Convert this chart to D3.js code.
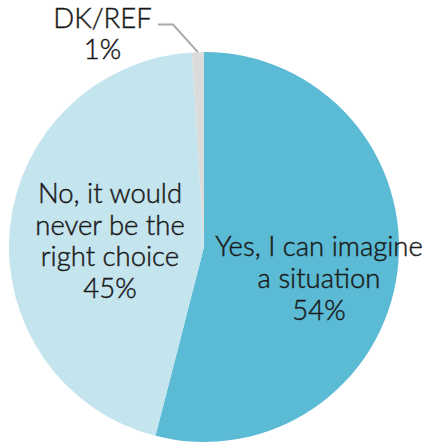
<!DOCTYPE html>
<html>
<head>
<meta charset="utf-8">
<script src="https://cdn.jsdelivr.net/npm/d3@7"></script>
<style>
  html, body { margin: 0; padding: 0; background: #ffffff; }
  svg { display: block; }
  text { font-family: Lato, "Noto Sans", sans-serif; font-weight: 300; fill: #1a1a1a; stroke: #1a1a1a; stroke-width: 0.45px; }
</style>
</head>
<body>
<svg id="chart" width="428" height="444"></svg>
<script>
// Survey responses, clockwise from 12 o'clock
const categories = ["Yes, I can imagine a situation", "No, it would never be the right choice", "DK/REF"];
const values = [54, 45, 1];
const labelLines = [
  ["Yes, I can imagine", "a situation", "54%"],
  ["No, it would", "never be the", "right choice", "45%"],
  ["DK/REF", "1%"]
];
const colors = ["#5bbad4", "#c4e4ee", "#dcdcdc"];

const W = 428, H = 444;
const cx = 204, cy = 247, R = 195;
const fontSize = 27.5, lineH = 31.6;

const svg = d3.select("#chart");
const g = svg.append("g").attr("transform", `translate(${cx},${cy})`);

const pie = d3.pie().sort(null).value(d => d.value);
const arc = d3.arc().innerRadius(0).outerRadius(R);

const data = categories.map((c, i) => ({ name: c, value: values[i], lines: labelLines[i], color: colors[i] }));
const arcs = pie(data);

g.selectAll("path.slice")
  .data(arcs)
  .join("path")
  .attr("class", "slice")
  .attr("d", arc)
  .attr("fill", d => d.data.color);

// Label anchors: x = text centre, y = middle baseline, relative to pie centre
const labelPos = [
  { x: 115, y: 41 },
  { x: -94, y: 3.6 },
  null
];

arcs.forEach((a, i) => {
  const p = labelPos[i];
  if (!p) return;
  const lines = a.data.lines;
  const t = g.append("text")
    .attr("text-anchor", "middle")
    .attr("font-size", fontSize);
  const y0 = p.y - (lines.length - 1) * lineH / 2;
  lines.forEach((ln, k) => {
    t.append("tspan")
      .attr("x", p.x)
      .attr("y", y0 + k * lineH)
      .text(ln);
  });
});

// Small slice: label outside with a leader line
const small = arcs[2];
const mid = (small.startAngle + small.endAngle) / 2;
const edge = [R * Math.sin(mid), -R * Math.cos(mid)];
const elbow = [173 - cx, 24.5 - cy];
const tail = [158 - cx, 24.5 - cy];
g.append("path")
  .attr("d", d3.line()([edge, elbow, tail]))
  .attr("fill", "none")
  .attr("stroke", "#aaaaaa")
  .attr("stroke-width", 2);

const dkText = g.append("text")
  .attr("text-anchor", "middle")
  .attr("font-size", fontSize);
small.data.lines.forEach((ln, k) => {
  dkText.append("tspan")
    .attr("x", 102.5 - cx)
    .attr("y", 27.7 - cy + k * lineH)
    .text(ln);
});
</script>
</body>
</html>
